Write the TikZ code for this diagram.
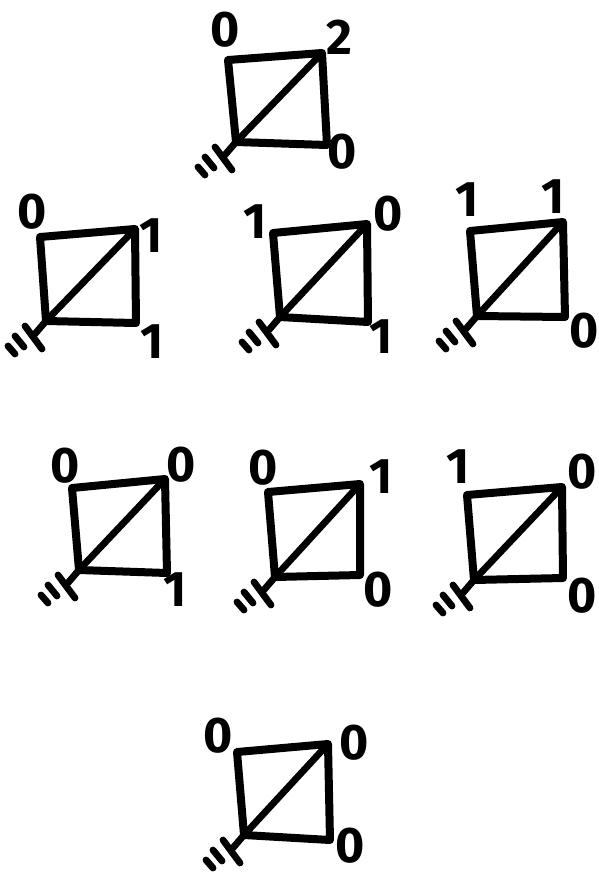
\documentclass[tikz,border=0pt]{standalone}
\usepackage{fontspec}
\setmainfont{Fira Sans}
\usetikzlibrary{calc}
\tikzset{
  sq/.style={line width=4pt,line join=round,line cap=round},
  dg/.style={line width=3.4pt,line cap=round},
  num/.style={font=\fontsize{25}{25}\selectfont\bfseries,inner sep=0pt},
  gnd/.pic={
    \draw[line width=3.4pt,line cap=round] (0,0) -- (-12,14);
    \draw[line width=3.4pt,line cap=round] (-21,5) -- (-4,28);
    \draw[line width=3.4pt,line cap=round] (-31,15) -- (-22,26);
    \draw[line width=3.4pt,line cap=round] (-38,25) -- (-31,33);
  }
}

\begin{document}
\begin{tikzpicture}[x=0.5pt,y=-0.5pt]
  \useasboundingbox (0,0) rectangle (599,879);

  % top square
  \coordinate (q1tl) at (228,60);  \coordinate (q1tr) at (322,53);
  \coordinate (q1br) at (327,145); \coordinate (q1bl) at (236,142);
  \draw[sq] (q1tl) -- (q1tr) -- (q1br) -- (q1bl) -- cycle;
  \draw[dg] (q1bl) -- (q1tr);
  \pic at (q1bl) {gnd};
  \node[num] (q1a) at (225,30) {0};
  \node[num] (q1b) at (339,37) {2};
  \node[num] (q1c) at (342,152) {0};

  % second row
  \coordinate (q2tl) at (40,237);  \coordinate (q2tr) at (135,229);
  \coordinate (q2br) at (136,323); \coordinate (q2bl) at (46,321);
  \draw[sq] (q2tl) -- (q2tr) -- (q2br) -- (q2bl) -- cycle;
  \draw[dg] (q2bl) -- (q2tr);
  \pic at (q2bl) {gnd};
  \node[num] (q2a) at (32,212) {0};
  \node[num] (q2b) at (151,236) {1};
  \node[num] (q2c) at (152,342) {1};

  \coordinate (q3tl) at (273,233); \coordinate (q3tr) at (367,224);
  \coordinate (q3br) at (368,322); \coordinate (q3bl) at (280,317);
  \draw[sq] (q3tl) -- (q3tr) -- (q3br) -- (q3bl) -- cycle;
  \draw[dg] (q3bl) -- (q3tr);
  \pic at (q3bl) {gnd};
  \node[num] (q3a) at (255,222) {1};
  \node[num] (q3b) at (388,214) {0};
  \node[num] (q3c) at (381,337) {1};

  \coordinate (q4tl) at (470,231); \coordinate (q4tr) at (563,222);
  \coordinate (q4br) at (565,317); \coordinate (q4bl) at (477,316);
  \draw[sq] (q4tl) -- (q4tr) -- (q4br) -- (q4bl) -- cycle;
  \draw[dg] (q4bl) -- (q4tr);
  \pic at (q4bl) {gnd};
  \node[num] (q4a) at (467,200) {1};
  \node[num] (q4b) at (553,197) {1};
  \node[num] (q4c) at (584,331) {0};

  % third row
  \coordinate (q5tl) at (72,488);  \coordinate (q5tr) at (165,479);
  \coordinate (q5br) at (167,573); \coordinate (q5bl) at (79,570);
  \draw[sq] (q5tl) -- (q5tr) -- (q5br) -- (q5bl) -- cycle;
  \draw[dg] (q5bl) -- (q5tr);
  \pic at (q5bl) {gnd};
  \node[num] (q5a) at (65,466) {0};
  \node[num] (q5b) at (181,465) {0};
  \node[num] (q5c) at (175,590) {1};

  \coordinate (q6tl) at (268,492); \coordinate (q6tr) at (360,484);
  \coordinate (q6br) at (360,575); \coordinate (q6bl) at (275,577);
  \draw[sq] (q6tl) -- (q6tr) -- (q6br) -- (q6bl) -- cycle;
  \draw[dg] (q6bl) -- (q6tr);
  \pic at (q6bl) {gnd};
  \node[num] (q6a) at (263,468) {0};
  \node[num] (q6b) at (381,477) {1};
  \node[num] (q6c) at (378,590) {0};

  \coordinate (q7tl) at (467,495); \coordinate (q7tr) at (562,487);
  \coordinate (q7br) at (563,578); \coordinate (q7bl) at (474,580);
  \draw[sq] (q7tl) -- (q7tr) -- (q7br) -- (q7bl) -- cycle;
  \draw[dg] (q7bl) -- (q7tr);
  \pic at (q7bl) {gnd};
  \node[num] (q7a) at (458,467) {1};
  \node[num] (q7b) at (582,472) {0};
  \node[num] (q7c) at (582,596) {0};

  % bottom square
  \coordinate (q8tl) at (237,752); \coordinate (q8tr) at (328,744);
  \coordinate (q8br) at (330,840); \coordinate (q8bl) at (244,835);
  \draw[sq] (q8tl) -- (q8tr) -- (q8br) -- (q8bl) -- cycle;
  \draw[dg] (q8bl) -- (q8tr);
  \pic at (q8bl) {gnd};
  \node[num] (q8a) at (218,736) {0};
  \node[num] (q8b) at (354,743) {0};
  \node[num] (q8c) at (350,846) {0};
\end{tikzpicture}
\end{document}
